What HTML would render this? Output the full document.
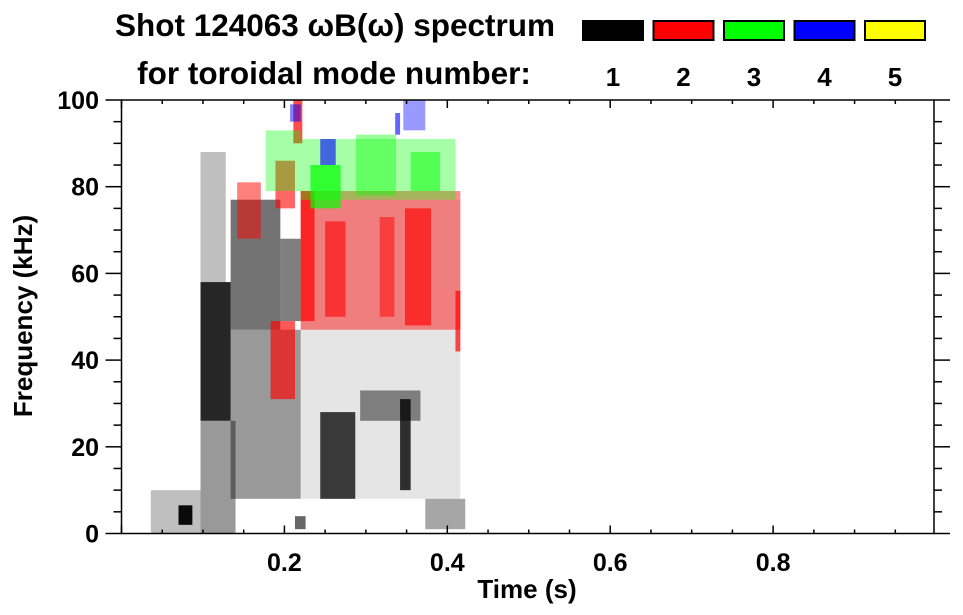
<!DOCTYPE html>
<html><head><meta charset="utf-8"><style>
body{margin:0;background:#fff;}
svg{display:block;font-family:"Liberation Sans",Arial,sans-serif;font-weight:bold;}
</style></head><body>
<svg id="chart" width="963" height="615" viewBox="0 0 963 615" xmlns="http://www.w3.org/2000/svg">
<text x="335" y="36" font-size="31.5" text-anchor="middle">Shot 124063 ωB(ω) spectrum</text>
<text x="334" y="84" font-size="31.5" text-anchor="middle">for toroidal mode number:</text>
<g id="legend"></g>
<g id="marks"></g>
<g id="axes"></g>
<text x="527" y="598" font-size="26" text-anchor="middle">Time (s)</text>
<text transform="translate(32,316) rotate(-90)" font-size="26" text-anchor="middle">Frequency (kHz)</text>
</svg>
<script>
// patches: time start/end (s), freq low/high (kHz), mode number, density
const tStart = [0.036,0.070,0.097,0.097,0.097,0.134,0.134,0.195,0.244,0.220,0.342,0.293,0.373,0.213,0.220,
  0.142,0.189,0.211,0.183,0.220,0.220,0.250,0.317,0.348,0.410,
  0.177,0.232,0.220,0.288,0.355,
  0.244,0.336,0.346,0.207];
const tEnd   = [0.097,0.087,0.134,0.140,0.128,0.195,0.220,0.220,0.287,0.416,0.355,0.367,0.422,0.226,0.416,
  0.171,0.213,0.222,0.213,0.416,0.237,0.275,0.335,0.380,0.416,
  0.220,0.269,0.410,0.337,0.391,
  0.263,0.342,0.373,0.220];
const fLow   = [0,2,26,0,58,47,8,49,8,8,10,26,1,1,42,
  68,75,90,31,47,49,50,50,48,42,
  79,75,77,78,79,
  85,92,93,95];
const fHigh  = [10,6.5,58,26,88,77,47,68,28,42,31,33,8,4,77,
  81,86,100,49,79,79,72,73,75,56,
  93,85,91,92,88,
  91,97,100,99];
const modes  = [1,1,1,1,1,1,1,1,1,1,1,1,1,1,1,
  2,2,2,2,2,2,2,2,2,2,
  3,3,3,3,3,
  4,4,4,4];
const density= [0.25,0.95,0.85,0.4,0.25,0.55,0.4,0.5,0.75,0.1,0.8,0.45,0.35,0.6,0.1,
  0.5,0.6,0.7,0.65,0.45,0.7,0.6,0.5,0.65,0.7,
  0.35,0.7,0.35,0.4,0.5,
  0.6,0.6,0.4,0.5];
const legendModes = [1,2,3,4,5];
const xTicks = [0.2,0.4,0.6,0.8];
const xTickLabels = ["0.2","0.4","0.6","0.8"];
const yTicks = [0,20,40,60,80,100];
const yTickLabels = ["0","20","40","60","80","100"];

const colors = {1:"#000000",2:"#ff0000",3:"#00ff00",4:"#0000ff",5:"#ffff00"};
const X0=121.5, X1=934, Y0=533.5, Y1=100, TMAX=0.9975, FMAX=100;
const xs = t => X0 + t/TMAX*(X1-X0);
const ys = f => Y0 - f/FMAX*(Y0-Y1);
const NS="http://www.w3.org/2000/svg";
function mk(tag, attrs, parent){const e=document.createElementNS(NS,tag);for(const k in attrs)e.setAttribute(k,attrs[k]);parent.appendChild(e);return e;}

const marks=document.getElementById('marks');
for(let i=0;i<tStart.length;i++){
  const x=xs(tStart[i]), w=xs(tEnd[i])-x, y=ys(fHigh[i]), h=ys(fLow[i])-y;
  const r=mk('rect',{x:x,y:y,width:w,height:h,fill:colors[modes[i]],'fill-opacity':density[i]},marks);
  
  
}

const legend=document.getElementById('legend');
legendModes.forEach((m,i)=>{
  const lx=582+i*70.5;
  const r=mk('rect',{x:lx+1,y:21,width:60,height:19,fill:colors[m],stroke:'#000','stroke-width':2},legend);
  
  
  const t=mk('text',{x:lx+31,y:86,'font-size':26,'text-anchor':'middle'},legend);
  t.textContent=String(m);
  
  
});

const axes=document.getElementById('axes');
mk('rect',{x:X0,y:Y1,width:X1-X0,height:Y0-Y1,fill:'none',stroke:'#000','stroke-width':1.5},axes);
for(let k=0;k<=19;k++){
  const t=k*0.05; if(t>TMAX) break;
  const major = k%4===0;
  const x=xs(t), len=major?8:4;
  mk('line',{x1:x,y1:Y0,x2:x,y2:Y0-len,stroke:'#000','stroke-width':1.5},axes);
  mk('line',{x1:x,y1:Y1,x2:x,y2:Y1+len,stroke:'#000','stroke-width':1.5},axes);
}
xTicks.forEach((t,i)=>{
  const tx=mk('text',{x:xs(t),y:571,'font-size':25,'text-anchor':'middle'},axes);
  tx.textContent=xTickLabels[i];
  
  
});
for(let f=0;f<=100;f+=5){
  const y=ys(f), major=f%20===0, len=major?16:8;
  mk('line',{x1:X0,y1:y,x2:X0-len,y2:y,stroke:'#000','stroke-width':1.5},axes);
  mk('line',{x1:X1,y1:y,x2:X1+len,y2:y,stroke:'#000','stroke-width':1.5},axes);
}
yTicks.forEach((f,i)=>{
  const tx=mk('text',{x:99,y:ys(f)+9,'font-size':25,'text-anchor':'end'},axes);
  tx.textContent=yTickLabels[i];
  
  
});
</script>
</body></html>
